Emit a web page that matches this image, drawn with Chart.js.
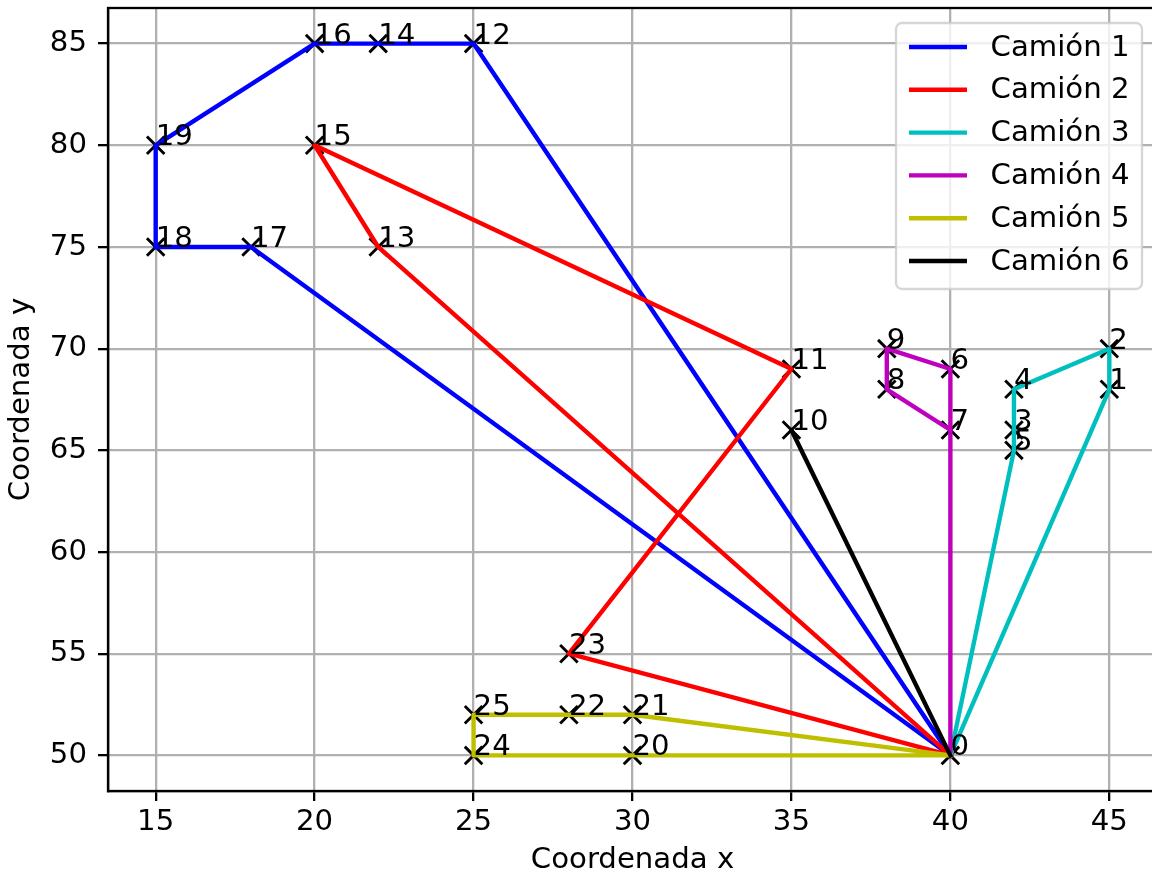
<!DOCTYPE html>
<html>
<head>
<meta charset="utf-8">
<script src="https://cdn.jsdelivr.net/npm/chart.js@4.4.1/dist/chart.umd.min.js"></script>
<style>
  html, body { margin: 0; padding: 0; background: #fff; overflow: hidden; width: 1152px; height: 879px; }
  #wrap { width: 1160px; height: 879px; }
</style>
</head>
<body>
<div id="wrap"><canvas id="rutas" width="1160" height="879"></canvas></div>
<script>
// === Datos: nodos (indice = id del nodo) ===
const nodeX = [40, 45, 45, 42, 42, 42, 40, 40, 38, 38, 35, 35, 25, 22, 22, 20, 20, 18, 15, 15, 30, 30, 28, 28, 25, 25];
const nodeY = [50, 68, 70, 66, 68, 65, 69, 66, 68, 70, 66, 69, 85, 75, 85, 80, 85, 75, 75, 80, 50, 52, 52, 55, 50, 52];

// === Rutas por camion ===
const truckNames = ['Camión 1', 'Camión 2', 'Camión 3', 'Camión 4', 'Camión 5', 'Camión 6'];
const routes = [
  [0, 12, 14, 16, 19, 18, 17, 0],
  [0, 13, 15, 11, 23, 0],
  [0, 5, 3, 4, 2, 1, 0],
  [0, 6, 9, 8, 7, 0],
  [0, 21, 22, 25, 24, 20, 0],
  [0, 10, 0]
];
const truckColors = ['#0000ff', '#ff0000', '#00bfbf', '#bf00bf', '#bfbf00', '#000000'];

// === Ejes ===
const xTicks = [15, 20, 25, 30, 35, 40, 45];
const yTicks = [50, 55, 60, 65, 70, 75, 80, 85];
const xMin = 13.5, xMax = 46.5, yMin = 48.25, yMax = 86.75;

Chart.defaults.font.family = "'DejaVu Sans', sans-serif";
Chart.defaults.color = '#000';

const LW = 4.4;
const FONT = 29.2;

const datasets = routes.map((r, i) => ({
  label: truckNames[i],
  data: r.map(n => ({ x: nodeX[n], y: nodeY[n] })),
  showLine: true,
  borderColor: truckColors[i],
  backgroundColor: truckColors[i],
  borderWidth: LW,
  borderJoinStyle: 'round',
  borderCapStyle: 'square',
  pointRadius: 0,
  tension: 0,
  fill: false,
  order: routes.length - i
}));

// los marcadores van debajo de las rutas
datasets.push({
  label: 'nodos',
  data: nodeX.map((x, i) => ({ x, y: nodeY[i] })),
  showLine: false,
  pointStyle: 'crossRot',
  pointRadius: 12.4,
  pointBorderColor: '#000',
  pointBackgroundColor: '#000',
  pointBorderWidth: 2.9,
  order: 10
});

// sin relleno extra: las etiquetas no estan en los bordes
function noPad(s) {
  s.paddingTop = 0; s.paddingBottom = 0; s.paddingLeft = 0; s.paddingRight = 0;
}

// marco completo (spines)
const framePlugin = {
  id: 'frame',
  afterDatasetsDraw(chart) {
    const { ctx, chartArea: a } = chart;
    ctx.save();
    ctx.strokeStyle = '#000';
    ctx.lineWidth = 2.3;
    ctx.strokeRect(a.left, a.top, a.right - a.left, a.bottom - a.top);
    ctx.restore();
  }
};

// etiquetas de los nodos
const nodeLabels = {
  id: 'nodeLabels',
  afterDatasetsDraw(chart) {
    const { ctx, scales: { x, y } } = chart;
    ctx.save();
    ctx.font = FONT + "px 'DejaVu Sans'";
    ctx.fillStyle = '#000';
    ctx.textAlign = 'left';
    ctx.textBaseline = 'alphabetic';
    nodeX.forEach((vx, i) => {
      ctx.fillText(String(i), x.getPixelForValue(vx), y.getPixelForValue(nodeY[i]));
    });
    ctx.restore();
  }
};

// leyenda dentro del grafico (arriba a la derecha)
const boxLegend = {
  id: 'boxLegend',
  afterDraw(chart) {
    const { ctx, chartArea: a } = chart;
    const w = 246, h = 266;
    const left = a.right - 15 - w, top = a.top + 15;
    ctx.save();
    ctx.beginPath();
    ctx.roundRect(left, top, w, h, 6);
    ctx.fillStyle = 'rgba(255,255,255,0.8)';
    ctx.fill();
    ctx.strokeStyle = 'rgba(204,204,204,0.8)';
    ctx.lineWidth = 2.3;
    ctx.stroke();
    ctx.font = FONT + "px 'DejaVu Sans'";
    ctx.textBaseline = 'middle';
    ctx.textAlign = 'left';
    truckNames.forEach((name, i) => {
      const yy = top + 24 + i * 42.8;
      ctx.strokeStyle = truckColors[i];
      ctx.lineWidth = LW;
      ctx.beginPath();
      ctx.moveTo(left + 13, yy);
      ctx.lineTo(left + 71, yy);
      ctx.stroke();
      ctx.fillStyle = '#000';
      ctx.fillText(name, left + 94.5, yy + 1);
    });
    ctx.restore();
  }
};

new Chart(document.getElementById('rutas'), {
  type: 'scatter',
  data: { datasets },
  options: {
    responsive: false,
    animation: false,
    devicePixelRatio: 1,
    layout: { autoPadding: false, padding: { top: 8, right: 3, left: 0, bottom: 0 } },
    plugins: { legend: { display: false }, tooltip: { enabled: false } },
    scales: {
      x: {
        type: 'linear',
        min: xMin, max: xMax,
        afterBuildTicks: s => { s.ticks = xTicks.map(v => ({ value: v })); },
        afterFit: s => { s.height = 88; noPad(s); },
        ticks: { font: { size: FONT }, padding: 3.5, autoSkip: false, maxRotation: 0, callback: v => String(v) },
        grid: { color: '#b0b0b0', lineWidth: 2.3, tickColor: '#000', tickLength: 10, tickWidth: 2.3 },
        border: { display: true, color: '#000', width: 2.3 },
        title: { display: true, text: 'Coordenada x', font: { size: FONT }, padding: { top: 0, bottom: 1.5 } }
      },
      y: {
        type: 'linear',
        min: yMin, max: yMax,
        afterBuildTicks: s => { s.ticks = yTicks.map(v => ({ value: v })); },
        afterFit: s => { s.width = 108; noPad(s); },
        ticks: { font: { size: FONT }, padding: 11, autoSkip: false, callback: v => String(v) },
        grid: { color: '#b0b0b0', lineWidth: 2.3, tickColor: '#000', tickLength: 10, tickWidth: 2.3 },
        border: { display: true, color: '#000', width: 2.3 },
        title: { display: true, text: 'Coordenada y', font: { size: FONT }, padding: { top: 4, bottom: 0 } }
      }
    }
  },
  plugins: [framePlugin, nodeLabels, boxLegend]
});
</script>
</body>
</html>
